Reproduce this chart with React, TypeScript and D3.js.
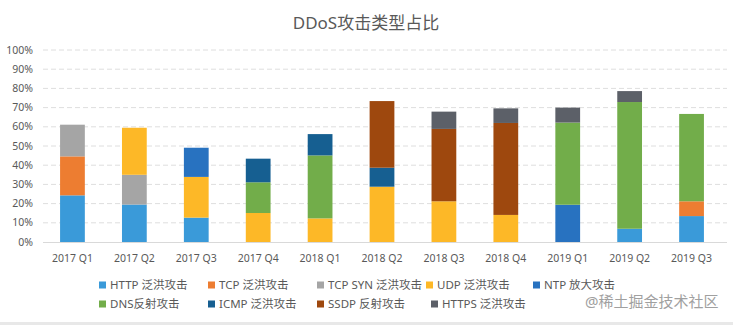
import React from "react";
import * as d3 from "d3";

const categories = ["2017 Q1", "2017 Q2", "2017 Q3", "2017 Q4", "2018 Q1", "2018 Q2", "2018 Q3", "2018 Q4", "2019 Q1", "2019 Q2", "2019 Q3"];
const seriesNames = ["HTTP 泛洪攻击", "TCP 泛洪攻击", "TCP SYN 泛洪攻击", "UDP 泛洪攻击", "NTP 放大攻击", "DNS反射攻击", "ICMP 泛洪攻击", "SSDP 反射攻击", "HTTPS 泛洪攻击"];
const seriesColors = ["#3a9ad9", "#ed7d31", "#a5a5a5", "#fdb827", "#2872c0", "#72ad4a", "#165f91", "#9e480e", "#5c6068"];

const httpFlood = [24.3, 19.5, 12.7, 0, 0, 0, 0, 0, 0, 6.9, 13.5];
const tcpFlood = [20.3, 0, 0, 0, 0, 0, 0, 0, 0, 0, 7.7];
const tcpSynFlood = [16.5, 15.5, 0, 0, 0, 0, 0, 0, 0, 0, 0];
const udpFlood = [0, 24.5, 21.2, 15.1, 12.3, 28.8, 21.2, 14.1, 0, 0, 0];
const ntpAmp = [0, 0, 15.2, 0, 0, 0, 0, 0, 19.4, 0, 0];
const dnsReflect = [0, 0, 0, 16.0, 32.8, 0, 0, 0, 42.8, 66.0, 45.5];
const icmpFlood = [0, 0, 0, 12.3, 11.1, 9.9, 0, 0, 0, 0, 0];
const ssdpReflect = [0, 0, 0, 0, 0, 34.7, 37.7, 47.9, 0, 0, 0];
const httpsFlood = [0, 0, 0, 0, 0, 0, 9.0, 7.6, 7.8, 5.7, 0];

const yTicks = [0, 10, 20, 30, 40, 50, 60, 70, 80, 90, 100];
const title = "DDoS攻击类型占比";
const watermark = "@稀土掘金技术社区";

const allSeries = [httpFlood, tcpFlood, tcpSynFlood, udpFlood, ntpAmp, dnsReflect, icmpFlood, ssdpReflect, httpsFlood];

const W = 733;
const H = 325;
const FONT = "'Noto Sans', 'Noto Sans CJK SC', sans-serif";
const TEXT = "#595959";

const legendCols = [[99, 208, 317, 426, 533], [99, 208, 317, 431]];
const legendRows = [285, 304];

export default function App() {
  const x = d3.scaleBand<string>().domain(categories).range([41.5, 722.5]).paddingInner(0.6).paddingOuter(0.3);
  const y = d3.scaleLinear().domain([0, 100]).range([242, 50]);

  const rows = categories.map((c, i) => {
    const r: any = { cat: c };
    seriesNames.forEach((s, j) => (r[s] = allSeries[j][i]));
    return r;
  });
  const stack = d3.stack<any>().keys(seriesNames)(rows);

  const legendItems = seriesNames.map((name, i) => {
    const row = i < 5 ? 0 : 1;
    const col = i < 5 ? i : i - 5;
    return { name, color: seriesColors[i], x: legendCols[row][col], y: legendRows[row] };
  });

  return (
    <svg width={W} height={H} style={{ position: "absolute", left: 0, top: 0, background: "#fff" }} fontFamily={FONT}>
      <rect x={0} y={0} width={W} height={H} fill="#ffffff" />
      <text x={366} y={29} textAnchor="middle" fontSize={17} fill={TEXT}>{title}</text>
      {yTicks.map((t) => (
        <g key={t}>
          {t > 0 && (
            <line x1={43} x2={727} y1={y(t)} y2={y(t)} stroke="#dedede" strokeWidth={1} strokeDasharray="5,3" />
          )}
          <text x={33} y={y(t)} dy="0.35em" textAnchor="end" fontSize={10.5} fill={TEXT}>{t}%</text>
        </g>
      ))}
      {stack.map((layer, j) => (
        <g key={layer.key} fill={seriesColors[j]}>
          {layer.map((d, i) =>
            d[1] - d[0] > 0 ? (
              <rect key={i} x={x(categories[i])} width={x.bandwidth()} y={y(d[1])} height={y(d[0]) - y(d[1])} />
            ) : null
          )}
        </g>
      ))}
      <line x1={43} x2={727} y1={y(0) + 0.5} y2={y(0) + 0.5} stroke="#d9d9d9" strokeWidth={1} />
      {categories.map((c) => (
        <text key={c} x={(x(c) as number) + x.bandwidth() / 2} y={262} textAnchor="middle" fontSize={10.5} fill={TEXT}>{c}</text>
      ))}
      {legendItems.map((it) => (
        <g key={it.name}>
          <rect x={it.x} y={it.y - 3.5} width={7} height={7} fill={it.color} />
          <text x={it.x + 11} y={it.y} dy="0.35em" fontSize={11.5} fill={TEXT}>{it.name}</text>
        </g>
      ))}
      <text x={585} y={307} fontSize={15} fill="#a0a0a0">{watermark}</text>
      <rect x={0} y={322} width={W} height={3} fill="#e8e8e8" />
    </svg>
  );
}
